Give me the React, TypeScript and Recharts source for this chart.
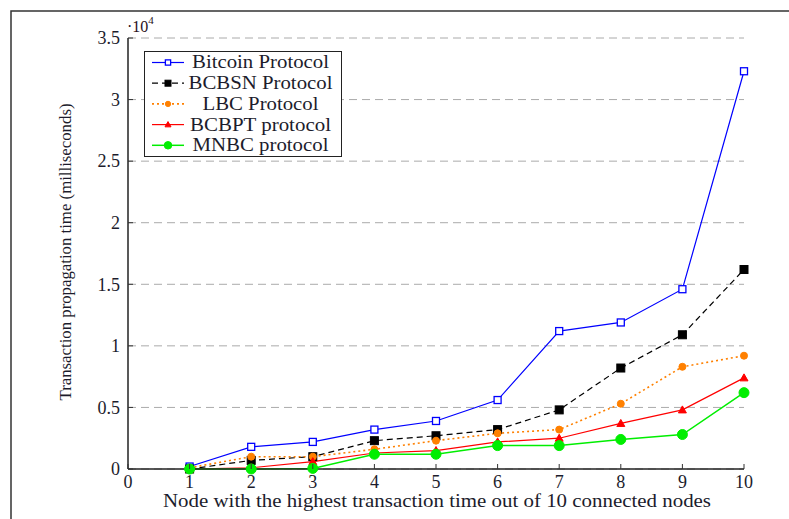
import React from "react";
import { LineChart, Line, XAxis, YAxis, CartesianGrid, Legend, Customized } from "recharts";

const nodes = [1, 2, 3, 4, 5, 6, 7, 8, 9, 10];
const bitcoin = [200, 1800, 2200, 3200, 3900, 5600, 11200, 11900, 14600, 32300];
const bcbsn = [0, 700, 1000, 2300, 2700, 3200, 4800, 8200, 10900, 16200];
const lbc = [100, 1000, 1000, 1600, 2300, 2900, 3200, 5300, 8300, 9200];
const bcbpt = [0, 100, 600, 1300, 1500, 2200, 2500, 3700, 4800, 7400];
const mnbc = [0, 0, 50, 1200, 1200, 1900, 1900, 2400, 2800, 6200];

const xTicks = [0, 1, 2, 3, 4, 5, 6, 7, 8, 9, 10];
const yTicks = [0, 5000, 10000, 15000, 20000, 25000, 30000, 35000];

const data = nodes.map((n, i) => ({
  node: n,
  bitcoin: bitcoin[i],
  bcbsn: bcbsn[i],
  lbc: lbc[i],
  bcbpt: bcbpt[i],
  mnbc: mnbc[i],
}));

const FONT = "Liberation Serif, Times New Roman, serif";
const TXT = "#1c1c2c";
const txtStyle = (size: number): React.CSSProperties => ({ fontFamily: FONT, fontSize: size });

type Shape = "openSquare" | "square" | "circleSmall" | "triangle" | "circle";

const drawMarker = (shape: Shape, cx: number, cy: number, color: string, key?: any, k = 1) => {
  switch (shape) {
    case "openSquare":
      return <rect key={key} x={cx - 3.5 * k} y={cy - 3.5 * k} width={7 * k} height={7 * k} fill="#fff" stroke={color} strokeWidth={1.3} />;
    case "square":
      return <rect key={key} x={cx - 4 * k} y={cy - 4 * k} width={8 * k} height={8 * k} fill={color} stroke={color} />;
    case "circleSmall":
      return <circle key={key} cx={cx} cy={cy} r={3.5 * k} fill={color} stroke={color} />;
    case "triangle":
      return <path key={key} d={`M${cx},${cy - 4 * k} L${cx + 4 * k},${cy + 3 * k} L${cx - 4 * k},${cy + 3 * k} Z`} fill={color} stroke={color} />;
    case "circle":
    default:
      return <circle key={key} cx={cx} cy={cy} r={5 * k} fill={color} stroke={color} />;
  }
};

const series: { key: string; name: string; color: string; dash?: string; shape: Shape; width: number }[] = [
  { key: "bitcoin", name: "Bitcoin Protocol", color: "#0000ff", shape: "openSquare", width: 1.2 },
  { key: "bcbsn", name: "BCBSN Protocol", color: "#000000", dash: "6 4", shape: "square", width: 1.2 },
  { key: "lbc", name: "LBC Protocol", color: "#ff8000", dash: "2 3", shape: "circleSmall", width: 1.6 },
  { key: "bcbpt", name: "BCBPT protocol", color: "#ff0000", shape: "triangle", width: 1.2 },
  { key: "mnbc", name: "MNBC protocol", color: "#00ee00", shape: "circle", width: 1.5 },
];
const legendTextWidths = [137, 144, 116, 141, 136];

const fmtY = (v: number) => String(v / 10000);

const BottomTick = (p: any) => (
  <g>
    <line x1={p.x} y1={p.y} x2={p.x} y2={p.y - 5} stroke="#333" strokeWidth={1} />
    <text x={p.x} y={p.y + 19} textAnchor="middle" style={txtStyle(18)} fill={TXT}>
      {p.payload.value}
    </text>
  </g>
);

const TopTick = (p: any) => (
  <line x1={p.x} y1={p.y} x2={p.x} y2={p.y + 5} stroke="#333" strokeWidth={1} />
);

const LeftTick = (p: any) => (
  <g>
    <line x1={p.x} y1={p.y} x2={p.x + 5} y2={p.y} stroke="#333" strokeWidth={1} />
    <text x={p.x - 8} y={p.y} dy="0.35em" textAnchor="end" style={txtStyle(18)} fill={TXT}>
      {fmtY(p.payload.value)}
    </text>
  </g>
);

const RightTick = (p: any) => (
  <line x1={p.x} y1={p.y} x2={p.x - 5} y2={p.y} stroke="#333" strokeWidth={1} />
);

const LegendBox = () => (
  <div
    style={{
      width: 196,
      height: 104,
      border: "1.5px solid #222",
      background: "#fff",
      boxSizing: "content-box",
    }}
  >
    <svg width={196} height={104} style={{ display: "block" }}>
      {series.map((s, i) => {
        const y = 10.5 + i * 20.7;
        return (
          <g key={s.key}>
            <line x1={7} y1={y} x2={39} y2={y} stroke={s.color} strokeWidth={s.width} strokeDasharray={s.dash} />
            {drawMarker(s.shape, 23, y, s.color, undefined, 0.75)}
            <text
              x={115.5}
              y={y}
              dy="0.33em"
              textAnchor="middle"
              style={txtStyle(18)}
              textLength={legendTextWidths[i]}
              lengthAdjust="spacingAndGlyphs"
              fill={TXT}
            >
              {s.name}
            </text>
          </g>
        );
      })}
    </svg>
  </div>
);

const Decorations = () => (
  <g>
    <path d="M11,530 L11,11 L800,11" fill="none" stroke="#333" strokeWidth={1.5} />
    <text x={127} y={32} style={txtStyle(16)} fill="#2a1020">
      ·10
      <tspan dy={-8} style={txtStyle(11)}>4</tspan>
    </text>
    <text
      x={65}
      y={252}
      transform="rotate(-90 65 252)"
      textAnchor="middle"
      dy="0.35em"
      style={txtStyle(16)}
      textLength={297}
      lengthAdjust="spacingAndGlyphs"
      fill={TXT}
    >
      Transaction propagation time (milliseconds)
    </text>
    <text
      x={437}
      y={507}
      textAnchor="middle"
      style={txtStyle(18)}
      textLength={548}
      lengthAdjust="spacingAndGlyphs"
      fill={TXT}
    >
      Node with the highest transaction time out of 10 connected nodes
    </text>
  </g>
);

export default function App() {
  return (
    <div style={{ position: "absolute", left: 0, top: 0, width: 789, height: 519, background: "#fff" }}>
      <LineChart width={789} height={519} data={data} margin={{ top: 38, right: 45, left: 0, bottom: 0 }}>
        <CartesianGrid xAxisId="b" yAxisId="l" vertical={false} stroke="#aaaaaa" strokeDasharray="8 5" />
        <XAxis
          xAxisId="b"
          dataKey="node"
          type="number"
          domain={[0, 10]}
          ticks={xTicks}
          height={50}
          tickLine={false}
          tickSize={0}
          tickMargin={0}
          axisLine={{ stroke: "#222", strokeWidth: 1.5 }}
          tick={BottomTick}
          interval={0}
        />
        <XAxis
          xAxisId="t"
          orientation="top"
          dataKey="node"
          type="number"
          domain={[0, 10]}
          ticks={xTicks}
          height={0}
          tickLine={false}
          tickSize={0}
          tickMargin={0}
          axisLine={{ stroke: "#222", strokeWidth: 1.5 }}
          tick={TopTick}
          interval={0}
        />
        <YAxis
          yAxisId="l"
          type="number"
          domain={[0, 35000]}
          ticks={yTicks}
          width={128}
          tickLine={false}
          tickSize={0}
          tickMargin={0}
          axisLine={{ stroke: "#222", strokeWidth: 1.5 }}
          tick={LeftTick}
          interval={0}
        />
        <YAxis
          yAxisId="r"
          orientation="right"
          type="number"
          domain={[0, 35000]}
          ticks={yTicks}
          width={0}
          tickLine={false}
          tickSize={0}
          tickMargin={0}
          axisLine={{ stroke: "#222", strokeWidth: 1.5 }}
          tick={RightTick}
          interval={0}
        />
        {series.map((s) => (
          <Line
            key={s.key}
            xAxisId="b"
            yAxisId="l"
            type="linear"
            dataKey={s.key}
            name={s.name}
            stroke={s.color}
            strokeWidth={s.width}
            strokeDasharray={s.dash}
            isAnimationActive={false}
            dot={(p: any) => drawMarker(s.shape, p.cx, p.cy, s.color, `${s.key}-${p.index}`)}
            activeDot={false}
          />
        ))}
        <Legend
          layout="vertical"
          align="center"
          verticalAlign="middle"
          content={() => <LegendBox />}
          wrapperStyle={{ position: "absolute", left: 144, top: 51, width: 199, height: 107 }}
        />
        <Customized component={Decorations} />
      </LineChart>
    </div>
  );
}
